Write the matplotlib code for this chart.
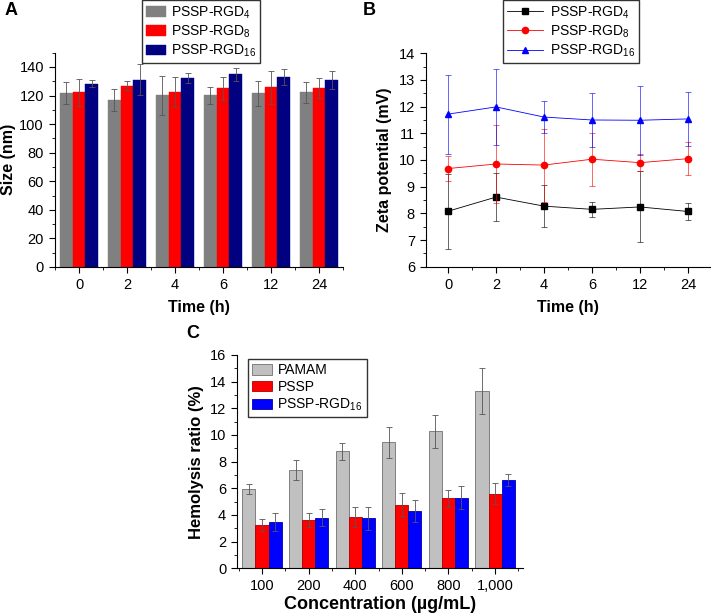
import matplotlib
matplotlib.use("Agg")
import matplotlib.pyplot as plt
from matplotlib.ticker import MultipleLocator
import numpy as np

plt.rcParams['font.family'] = ['Liberation Sans', 'DejaVu Sans']
plt.rcParams['mathtext.default'] = 'regular'

# ---- data ----
times = ['0', '2', '4', '6', '12', '24']
size_labels = ['PSSP-RGD$_{4}$', 'PSSP-RGD$_{8}$', 'PSSP-RGD$_{16}$']
size_rgd4 = [121.7, 117.0, 120.1, 120.1, 121.5, 122.2]
size_rgd4_err = [7.7, 7.5, 13.6, 5.9, 8.7, 7.3]
size_rgd8 = [122.4, 126.9, 122.4, 125.0, 125.7, 125.3]
size_rgd8_err = [9.5, 3.3, 10.5, 8.0, 11.5, 6.8]
size_rgd16 = [128.3, 131.1, 132.3, 134.9, 133.0, 130.9]
size_rgd16_err = [2.6, 11.0, 3.5, 4.5, 5.6, 6.3]

zeta_rgd4 = [8.08, 8.61, 8.27, 8.15, 8.24, 8.07]
zeta_rgd4_err = [1.40, 0.91, 0.80, 0.28, 1.33, 0.33]
zeta_rgd8 = [9.68, 9.85, 9.81, 10.03, 9.90, 10.05]
zeta_rgd8_err = [0.46, 1.46, 1.37, 1.00, 0.33, 0.61]
zeta_rgd16 = [11.72, 11.99, 11.61, 11.50, 11.49, 11.54]
zeta_rgd16_err = [1.48, 1.42, 0.60, 1.01, 1.29, 1.00]

conc = ['100', '200', '400', '600', '800', '1,000']
hemo_labels = ['PAMAM', 'PSSP', 'PSSP-RGD$_{16}$']
hemo_pamam = [5.93, 7.35, 8.77, 9.45, 10.27, 13.28]
hemo_pamam_err = [0.37, 0.75, 0.65, 1.15, 1.25, 1.72]
hemo_pssp = [3.22, 3.62, 3.85, 4.77, 5.25, 5.60]
hemo_pssp_err = [0.45, 0.55, 0.72, 0.85, 0.62, 0.77]
hemo_rgd16 = [3.45, 3.80, 3.75, 4.30, 5.30, 6.60]
hemo_rgd16_err = [0.67, 0.62, 0.87, 0.80, 0.87, 0.45]

fig = plt.figure(figsize=(7.13, 6.14), dpi=100)
axA = fig.add_axes([55/713, 1-267/614, 288/713, 214.3/614])
axB = fig.add_axes([426/713, 1-266.7/614, 284/713, 213.4/614])
axC = fig.add_axes([237.3/713, 1-568.3/614, 285.7/713, 213.3/614])


def style_axis(ax):
    for s in ['top', 'right']:
        ax.spines[s].set_visible(False)
    for s in ['left', 'bottom']:
        ax.spines[s].set_linewidth(0.8)
    ax.tick_params(which='major', direction='out', length=4, width=0.8, labelsize=10.5, pad=4)
    ax.tick_params(which='minor', direction='out', length=2, width=0.6)


# ---- A: size bars ----
x = np.arange(len(times))
w = 0.27
ekw = dict(ecolor='#555555', elinewidth=0.6, capsize=2.2, capthick=0.6)
for i, (vals, errs, col) in enumerate([(size_rgd4, size_rgd4_err, '#808080'),
                                        (size_rgd8, size_rgd8_err, '#ff0000'),
                                        (size_rgd16, size_rgd16_err, '#000080')]):
    axA.bar(x + (i - 1) * w, vals, w, yerr=errs, color=col, edgecolor=col,
            linewidth=0.3, label=size_labels[i], error_kw=ekw)
axA.set_xlim(-0.5, 5.5)
axA.set_ylim(0, 150)
axA.set_xticks(x)
axA.set_xticklabels(times)
axA.xaxis.set_minor_locator(MultipleLocator(0.5))
axA.yaxis.set_major_locator(MultipleLocator(20))
axA.yaxis.set_minor_locator(MultipleLocator(10))
style_axis(axA)
axA.set_xlabel('Time (h)', fontsize=11.5, fontweight='bold', labelpad=6)
axA.set_ylabel('Size (nm)', fontsize=11.5, fontweight='bold', labelpad=2)
axA.legend(loc='upper left', bbox_to_anchor=(87/288, 1.245), fontsize=10,
           frameon=True, fancybox=False, edgecolor='#333333', framealpha=1,
           handlelength=1.4, handleheight=0.8, labelspacing=0.2,
           borderpad=0.3, handletextpad=0.4, borderaxespad=0)
fig.text(5/713, 1-15/614, 'A', fontsize=13, fontweight='bold')

# ---- B: zeta potential ----
handles = []
for vals, errs, col, mk, lab in [(zeta_rgd4, zeta_rgd4_err, 'black', 's', size_labels[0]),
                                  (zeta_rgd8, zeta_rgd8_err, '#ff0000', 'o', size_labels[1]),
                                  (zeta_rgd16, zeta_rgd16_err, '#0000ff', '^', size_labels[2])]:
    axB.errorbar(x, vals, yerr=errs, fmt='none', ecolor=col, elinewidth=0.6,
                 capsize=2.2, capthick=0.6, alpha=0.7)
    ln, = axB.plot(x, vals, color=col, marker=mk, markersize=4.5,
                   linewidth=0.6, label=lab)
    handles.append(ln)
axB.set_xlim(-0.46, 5.46)
axB.set_ylim(6, 14)
axB.set_xticks(x)
axB.set_xticklabels(times)
axB.xaxis.set_minor_locator(MultipleLocator(0.5))
axB.yaxis.set_major_locator(MultipleLocator(1))
axB.yaxis.set_minor_locator(MultipleLocator(0.5))
style_axis(axB)
axB.set_xlabel('Time (h)', fontsize=11.5, fontweight='bold', labelpad=6)
axB.set_ylabel('Zeta potential (mV)', fontsize=11.5, fontweight='bold', labelpad=5)
axB.legend(handles=handles, loc='upper left', bbox_to_anchor=(77/284, 1.25), fontsize=10,
           frameon=True, fancybox=False, edgecolor='#333333', framealpha=1,
           handlelength=2.6, labelspacing=0.2, borderpad=0.3,
           handletextpad=0.5, borderaxespad=0)
fig.text(363/713, 1-15/614, 'B', fontsize=13, fontweight='bold')

# ---- C: hemolysis ----
xc = np.arange(len(conc))
wc = 0.28
for i, (vals, errs, col, ec) in enumerate([(hemo_pamam, hemo_pamam_err, '#c0c0c0', '#707070'),
                                            (hemo_pssp, hemo_pssp_err, '#ff0000', '#aa0000'),
                                            (hemo_rgd16, hemo_rgd16_err, '#0000ff', '#0000aa')]):
    axC.bar(xc + (i - 1) * wc, vals, wc, yerr=errs, color=col, edgecolor=ec,
            linewidth=0.6, label=hemo_labels[i], error_kw=ekw)
axC.set_xlim(-0.53, 5.6)
axC.set_ylim(0, 16)
axC.set_xticks(xc)
axC.set_xticklabels(conc)
axC.xaxis.set_minor_locator(MultipleLocator(0.5))
axC.yaxis.set_major_locator(MultipleLocator(2))
axC.yaxis.set_minor_locator(MultipleLocator(1))
style_axis(axC)
axC.set_xlabel('Concentration (\u00b5g/mL)', fontsize=13, fontweight='bold', labelpad=2)
axC.set_ylabel('Hemolysis ratio (%)', fontsize=12, fontweight='bold', labelpad=4)
axC.legend(loc='upper left', bbox_to_anchor=(11/285.7, 1-4/213.3), fontsize=10,
           frameon=True, fancybox=False, edgecolor='#333333', framealpha=1,
           handlelength=1.4, handleheight=0.8, labelspacing=0.2,
           borderpad=0.3, handletextpad=0.4, borderaxespad=0)
fig.text(186/713, 1-338/614, 'C', fontsize=13, fontweight='bold')

fig.savefig('out.png', dpi=100)
